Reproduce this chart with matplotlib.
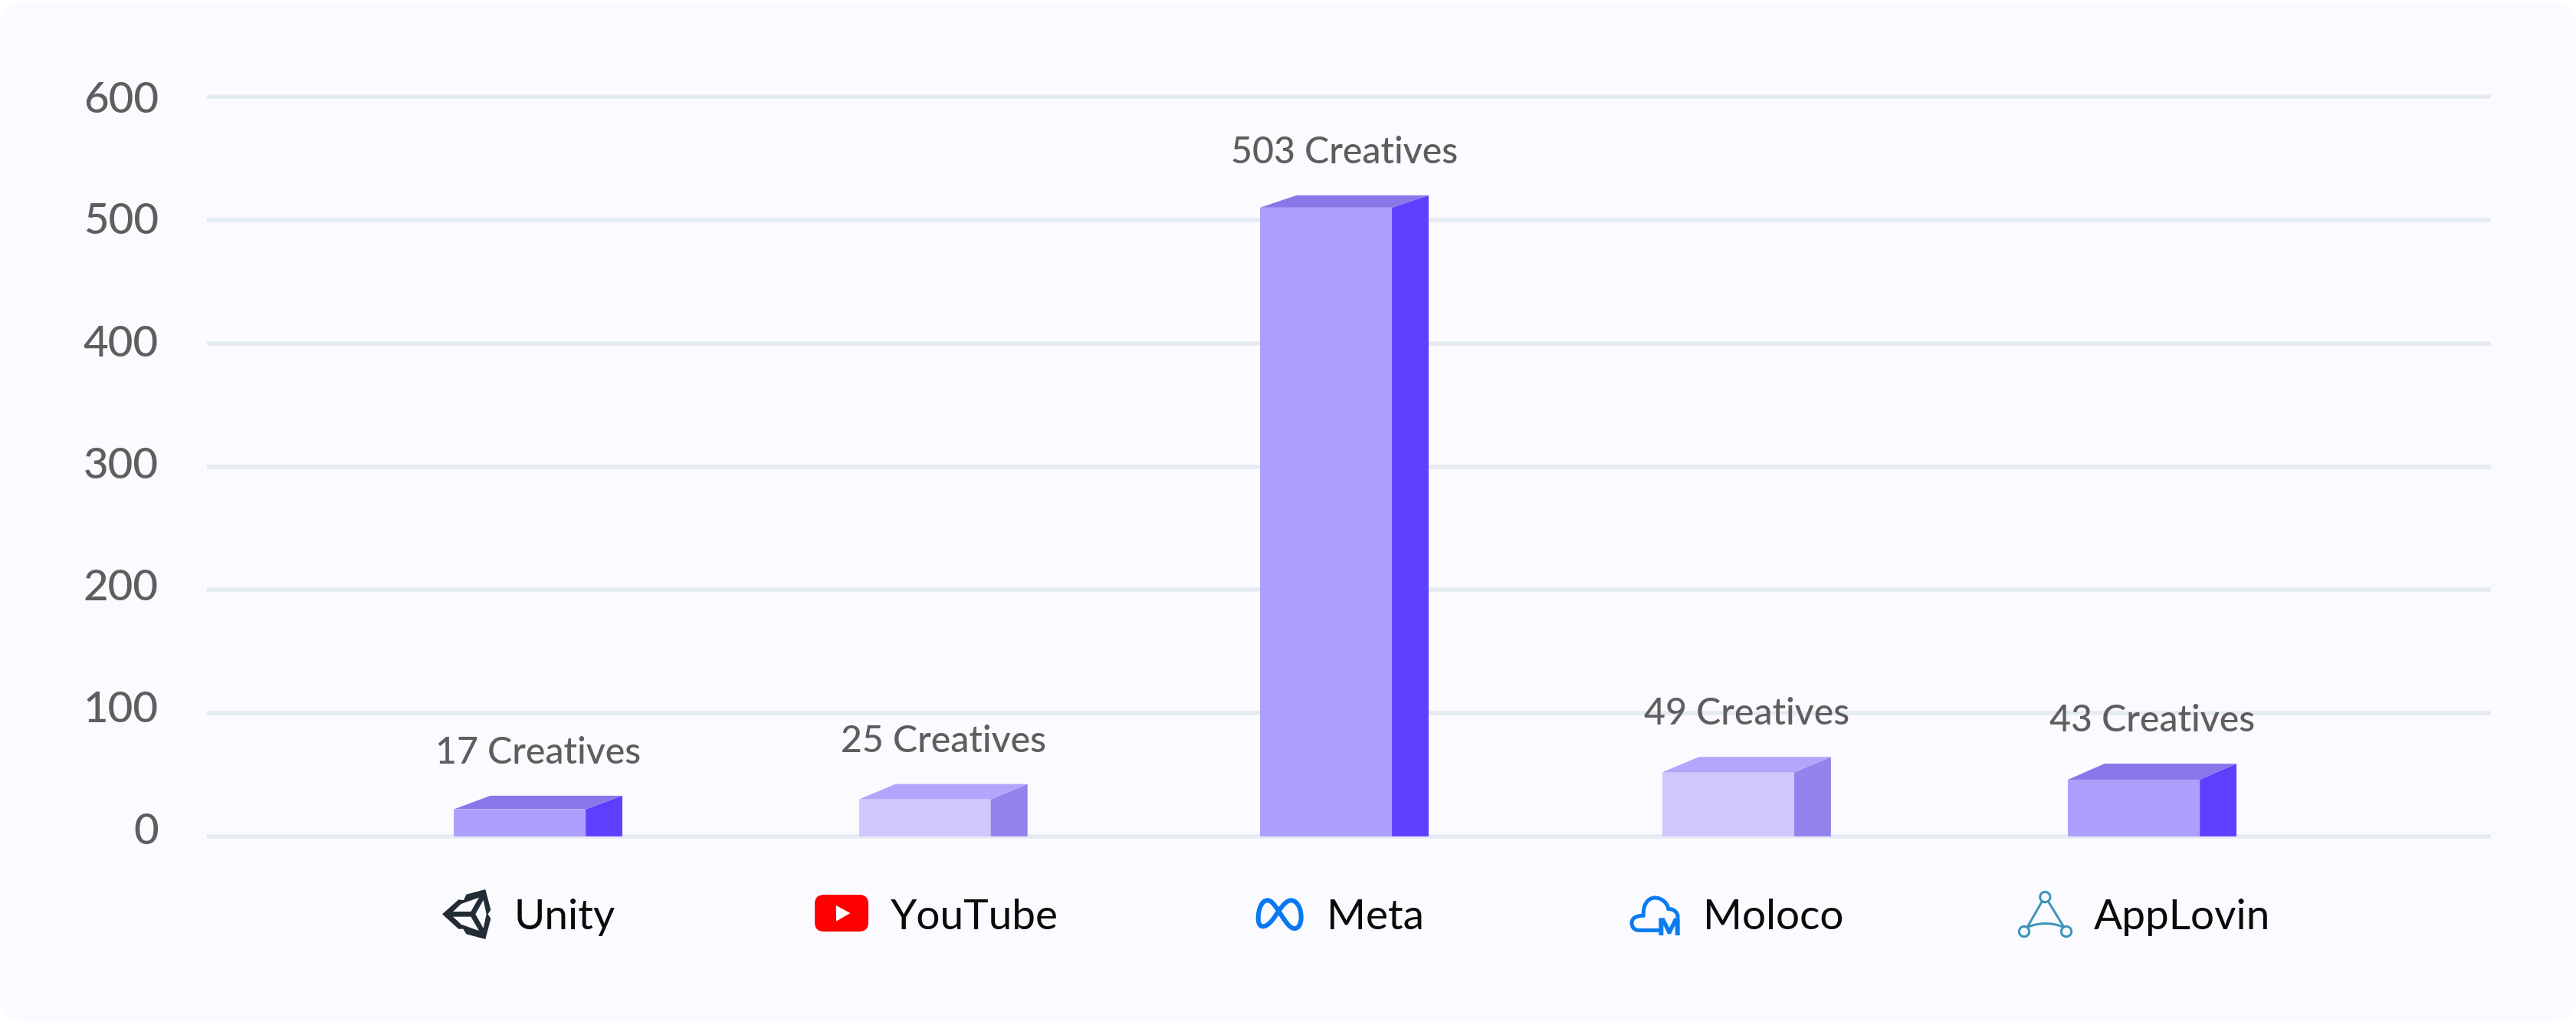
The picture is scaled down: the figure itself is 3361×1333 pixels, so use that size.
#!/usr/bin/env python3
import matplotlib
matplotlib.use('Agg')
import matplotlib.pyplot as plt
from matplotlib.patches import Circle, FancyBboxPatch, PathPatch, Polygon
from matplotlib.path import Path
from matplotlib.transforms import Affine2D, ScaledTranslation

# Data
platforms = ['Unity', 'YouTube', 'Meta', 'Moloco', 'AppLovin']
creatives = [17, 25, 503, 49, 43]
bar_heights = [22, 30, 510, 52, 46]
y_ticks = [0, 100, 200, 300, 400, 500, 600]

# Colours (front, side, top of each bar)
FRONT = ['#AD9FFC', '#D0C8FD', '#AD9FFC', '#D0C8FD', '#AD9FFC']
SIDE = ['#5F3FFF', '#9582EC', '#5F3FFF', '#9582EC', '#5F3FFF']
TOP = ['#8A76E9', '#B3A5FC', '#8A76E9', '#B3A5FC', '#8A76E9']
COLOR_BG = '#FBFAFF'
COLOR_GRID = '#E5EBF3'
COLOR_TEXT = '#5E5E5E'
COLOR_NAME = '#0A0A0A'

# Layout, everything in reference pixels
W, H = 3362, 1333
DPI = 200
PT = 72 / DPI
BAR_W = 0.327
SIDE_W = 0.091
bar_pos = [0, 1.004, 1.998, 2.995, 4.0]
top_rise = [11, 12.5, 10, 12.5, 13]
name_offset_px = [-8, -45, 1, -33, -52]
tick_lift_px = [10, 9, 7, 4.5, 3, 2, 0]

plt.rcParams['font.family'] = ['Lato', 'DejaVu Sans']

fig = plt.figure(figsize=(W / DPI, H / DPI), dpi=DPI, facecolor='white')
# pixel space of the image, y pointing down
px = Affine2D().scale(1 / W, -1 / H).translate(0, 1) + fig.transFigure

fig.add_artist(FancyBboxPatch((35, 37), W - 70.5, H - 72.5, transform=px,
                              boxstyle='round,pad=35,rounding_size=35',
                              facecolor=COLOR_BG, edgecolor='none', zorder=-1))

ax = fig.add_axes([270 / W, 1 - 1107 / H, 2980 / W, 997 / H])
ax.patch.set_visible(False)

# front faces
ax.bar(bar_pos, bar_heights, width=BAR_W, color=FRONT, linewidth=0, zorder=3)

for i, h in enumerate(bar_heights):
    left = bar_pos[i] - BAR_W / 2
    right = bar_pos[i] + BAR_W / 2
    r = top_rise[i]
    ax.add_patch(Polygon([(right, 0), (right, h), (right + SIDE_W, h + r), (right + SIDE_W, 0)],
                         facecolor=SIDE[i], edgecolor='none', zorder=3))
    ax.add_patch(Polygon([(left, h), (right, h), (right + SIDE_W, h + r), (left + SIDE_W, h + r)],
                         facecolor=TOP[i], edgecolor='none', zorder=3))
    ax.annotate(f'{creatives[i]} Creatives', (bar_pos[i] + SIDE_W / 2, h + r),
                xytext=(0, 42 * PT), textcoords='offset points',
                ha='center', va='baseline', fontsize=17.4, fontweight='medium',
                color=COLOR_TEXT, zorder=4)

ax.set_xlim(-0.775, 4.885)
ax.set_ylim(-10, 610)
ax.set_yticks(y_ticks)
ax.set_xticks(bar_pos)
ax.set_xticklabels(platforms)
ax.tick_params(axis='y', length=0, pad=63 * PT, labelsize=20.3, labelcolor=COLOR_TEXT)
ax.tick_params(axis='x', length=0, pad=105 * PT, labelsize=19.8, labelcolor=COLOR_NAME)
ax.grid(axis='y', color=COLOR_GRID, linewidth=5.5 * PT, zorder=0)
ax.set_axisbelow(True)
for line in ax.get_ygridlines():
    line.set_solid_capstyle('butt')
for side in ax.spines.values():
    side.set_visible(False)

for label, off in zip(ax.get_xticklabels(), name_offset_px):
    label.set_ha('left')
    label.set_va('baseline')
    label.set_transform(label.get_transform() + ScaledTranslation(off * PT / 72, 0, fig.dpi_scale_trans))
for label, lift in zip(ax.get_yticklabels(), tick_lift_px):
    label.set_fontweight('medium')
    label.set_transform(label.get_transform() + ScaledTranslation(0, lift * PT / 72, fig.dpi_scale_trans))


def crop(points, ox, oy):
    return [(ox + a / 3, oy + b / 3) for a, b in points]


def add_poly(points, ox, oy, color):
    fig.add_artist(Polygon(crop(points, ox, oy), closed=True, transform=px,
                           facecolor=color, edgecolor='none', zorder=5))


def add_curve(start, segments, ox, oy, color, width):
    verts = [start]
    codes = [Path.MOVETO]
    for seg in segments:
        verts += seg
        codes += [Path.LINETO] if len(seg) == 1 else [Path.CURVE4] * 3
    fig.add_artist(PathPatch(Path(crop(verts, ox, oy), codes), transform=px, fill=False,
                             edgecolor=color, linewidth=width * PT, capstyle='round',
                             joinstyle='round', zorder=5))


# Unity
UNITY = '#222C37'
add_poly([(36, 127), (100, 70), (120, 72), (130, 50), (205, 30), (226, 110), (215, 127),
          (226, 145), (205, 225), (130, 205), (118, 185), (100, 185)], 565, 1150, UNITY)
add_poly([(78, 117), (110, 87), (180, 62), (148, 117)], 565, 1150, COLOR_BG)
add_poly([(166, 127), (197, 72), (209, 127), (197, 182)], 565, 1150, COLOR_BG)
add_poly([(78, 137), (148, 137), (180, 192), (110, 167)], 565, 1150, COLOR_BG)

# YouTube
fig.add_artist(FancyBboxPatch((1075, 1179), 46, 24, transform=px,
                              boxstyle='round,pad=12,rounding_size=12',
                              facecolor='#FF0000', edgecolor='none', zorder=5))
add_poly([(123, 78), (178, 108), (123, 140)], 1050, 1155, 'white')

# Meta
add_curve((130, 100), [[(150, 70), (165, 58), (178, 58)],
                       [(200, 58), (218, 85), (218, 125)],
                       [(218, 150), (208, 168), (192, 168)],
                       [(170, 168), (150, 130), (130, 100)],
                       [(110, 70), (100, 58), (85, 58)],
                       [(65, 58), (50, 90), (50, 130)],
                       [(50, 150), (58, 160), (68, 160)],
                       [(90, 160), (110, 130), (130, 100)]], 1625, 1155, '#0A78F0', 6)

# Moloco
add_curve((155, 175), [[(70, 175)],
                       [(50, 175), (42, 160), (42, 147)],
                       [(42, 130), (55, 118), (88, 118)],
                       [(85, 75), (105, 48), (133, 48)],
                       [(160, 48), (183, 70), (185, 92)],
                       [(205, 90), (222, 105), (222, 122)]], 2115, 1155, '#0A7CF0', 5)
add_poly([(148, 127), (170, 127), (189, 165), (208, 127), (230, 127), (230, 195), (212, 195),
          (212, 155), (195, 190), (183, 190), (166, 155), (166, 195), (148, 195)],
         2115, 1155, '#0A7CF0')

# AppLovin
TEAL = '#3D95B8'
add_curve((118, 62), [[(62, 160)]], 2625, 1155, TEAL, 3)
add_curve((142, 62), [[(202, 160)]], 2625, 1155, TEAL, 3)
add_curve((68, 160), [[(110, 145), (155, 145), (195, 160)]], 2625, 1155, TEAL, 3)
for a, b in [(130, 45), (48, 180), (213, 180)]:
    fig.add_artist(Circle(crop([(a, b)], 2625, 1155)[0], 20 / 3, transform=px, fill=False,
                          edgecolor=TEAL, linewidth=3 * PT, zorder=5))

fig.savefig('out.png', dpi=DPI)
